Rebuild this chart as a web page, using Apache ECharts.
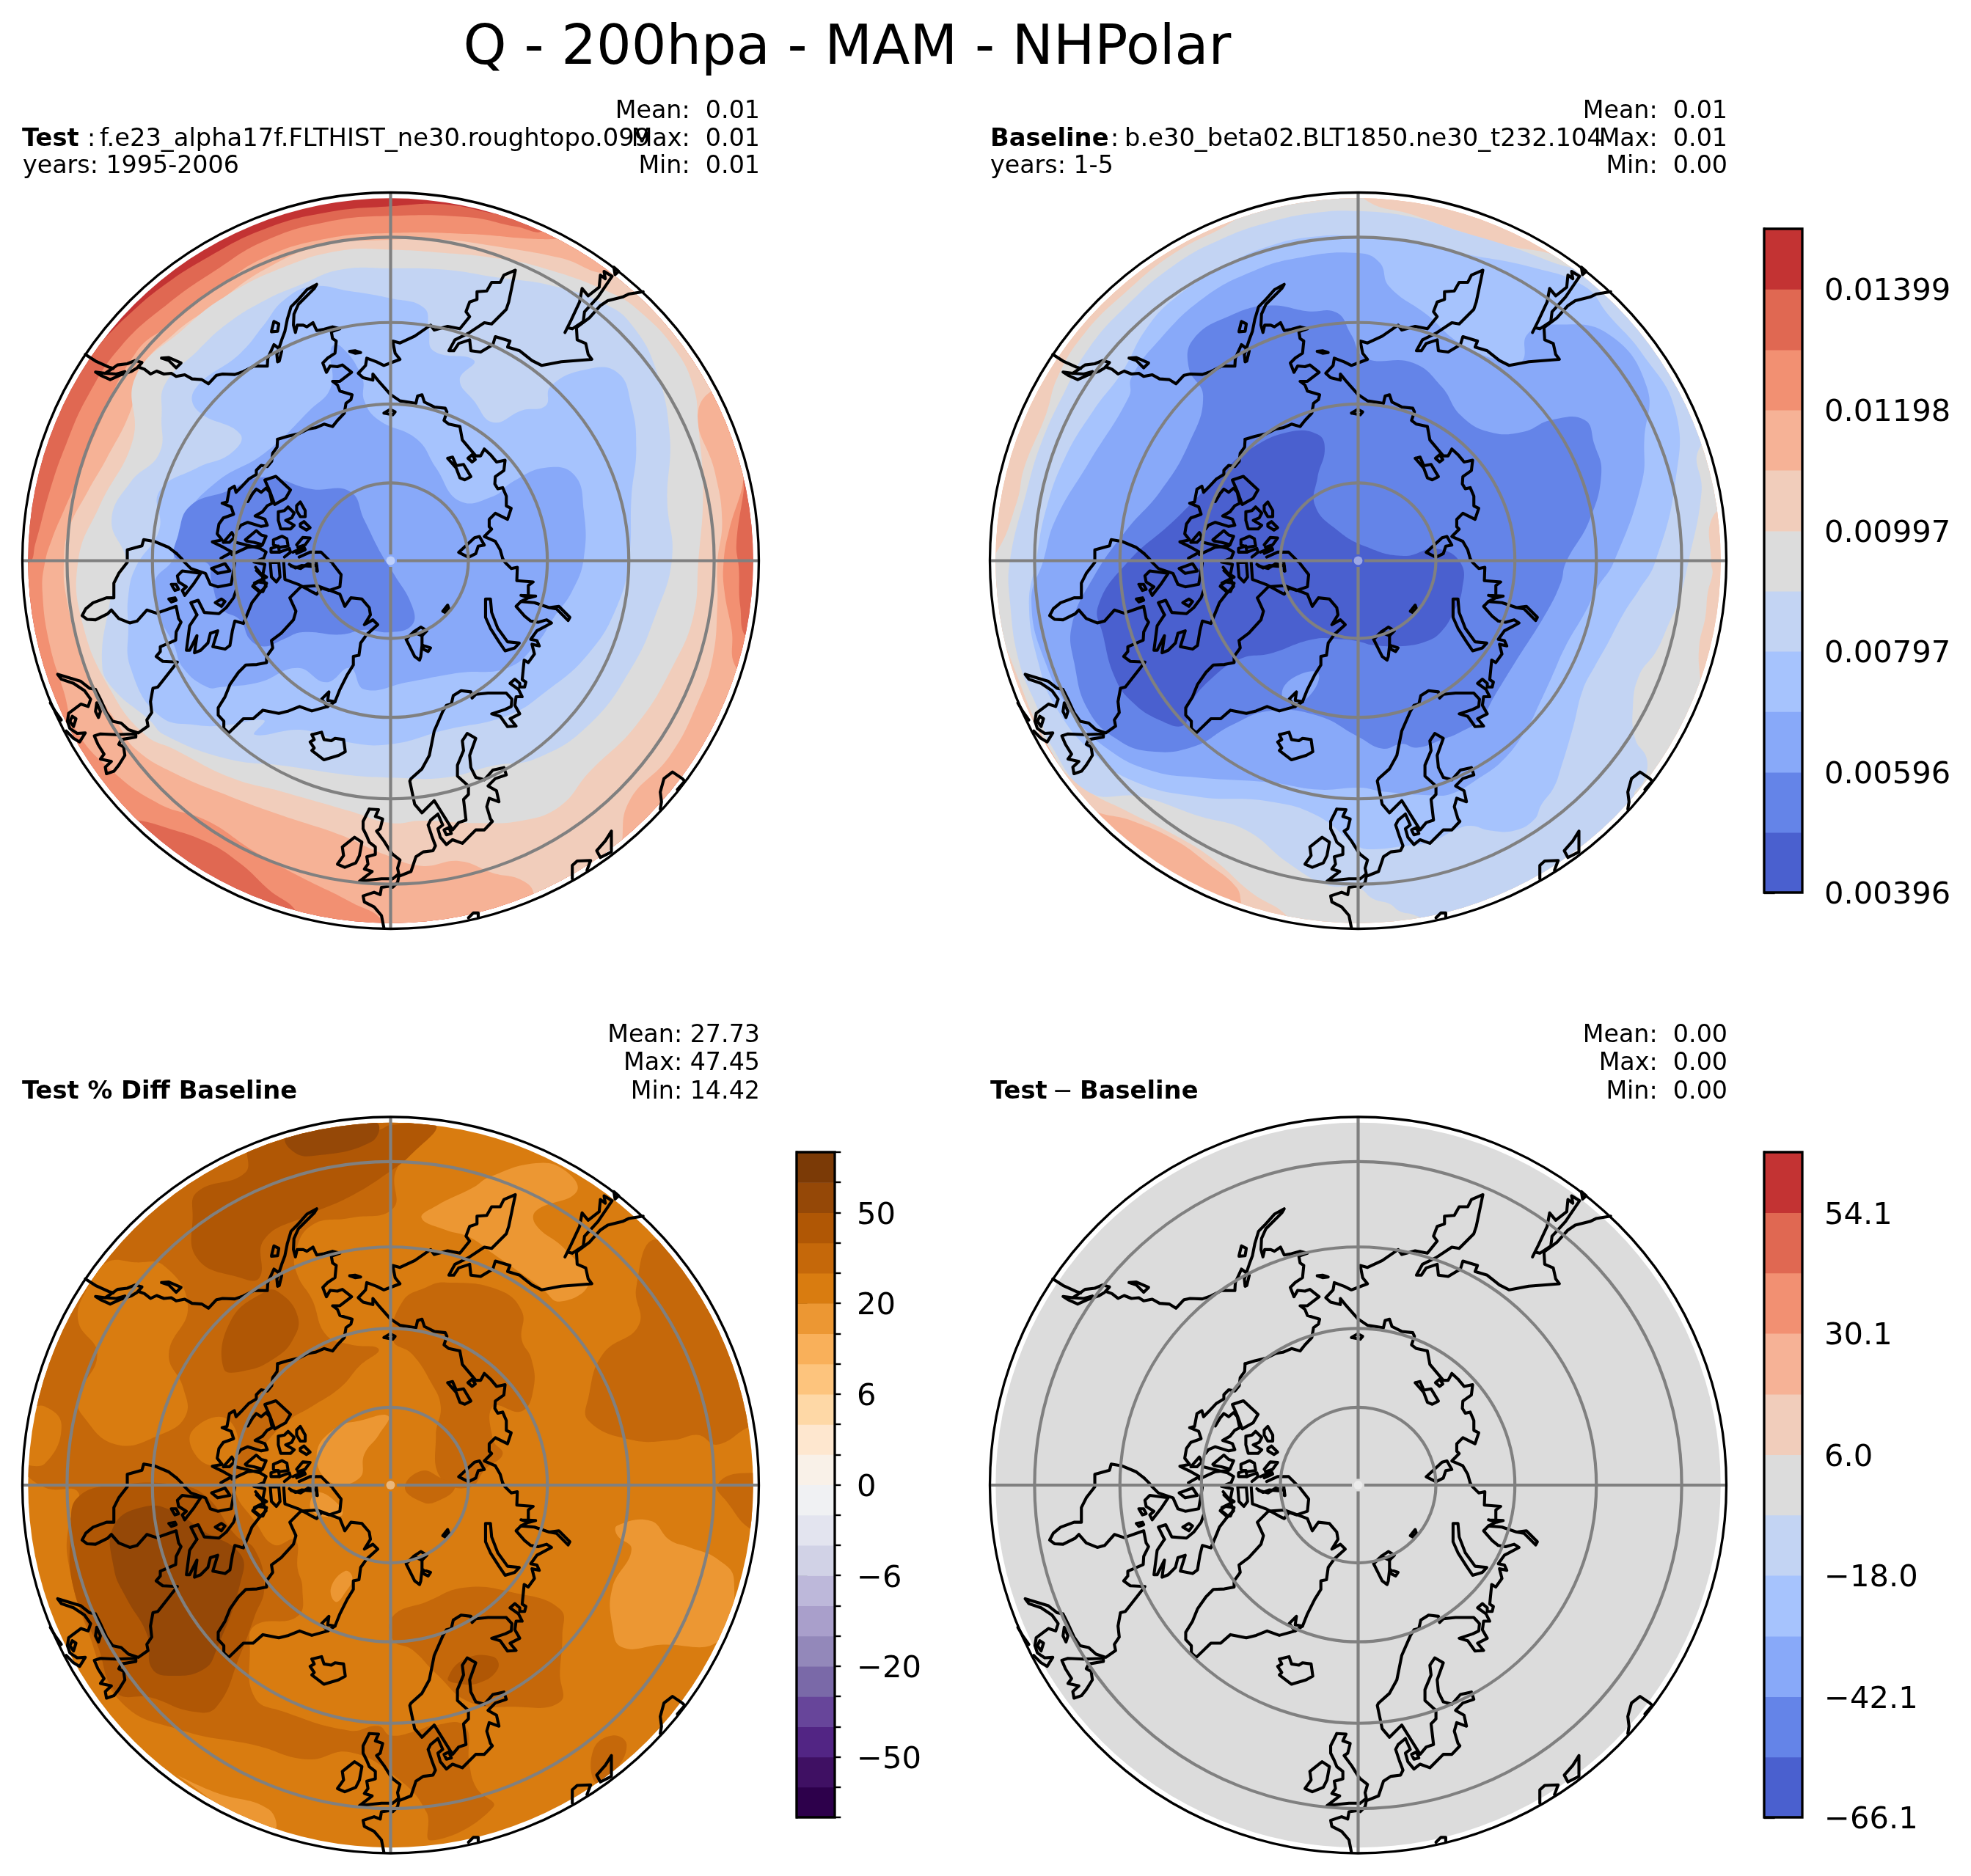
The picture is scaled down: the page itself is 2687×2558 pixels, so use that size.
<!DOCTYPE html>
<html><head><meta charset="utf-8">
<style>html,body{margin:0;padding:0;background:#fff}#c{width:2687px;height:2558px}</style>
<script src="https://cdn.jsdelivr.net/npm/echarts@6/dist/echarts.min.js"></script>
</head><body><div id="c"></div>
<script>
// ---------- colour scales ----------
const coolwarm=['#4a60cf','#6484e8','#88a9f9','#a6c3fd','#c3d4f3','#dcdcdc','#f1cdbb','#f6b296','#f29072','#e06852','#c33333'];
const puor=['#2d004b','#3f1063','#522584','#67459a','#7a69a8','#9388ba','#a99fcb','#bdb8da','#d1d2e6','#e3e4ef','#f0f1f3','#f9f1e8','#fee7cf','#fed8a6','#fdc47d','#f9b05a','#ec9733','#d97c10','#c5680a','#b05705','#954807','#7b3a06'];
// ---------- colour-bar levels and ticks ----------
const qLevels=[0.00396,0.00496,0.00596,0.00697,0.00797,0.00897,0.00997,0.01098,0.01198,0.01298,0.01399,0.01499];
const qTicks=[0.00396,0.00596,0.00797,0.00997,0.01198,0.01399];
const pctLevels=[-100,-75,-50,-40,-30,-20,-15,-10,-6,-4,-2,0,2,4,6,10,15,20,30,40,50,75,100];
const pctTicks=[-50,-20,-6,0,6,20,50];
const diffLevels=[-66.1,-54.1,-42.1,-30.1,-18.0,-6.0,6.0,18.0,30.1,42.1,54.1,66.1];
const diffTicks=[-66.1,-42.1,-18.0,6.0,30.1,54.1];
// ---------- map graticule ----------
const gridLats=[80,70,60,50];
const gridLons=[0,90,180,270];
// ---------- Test panel: region below each contour level (map units) ----------
const tBelow10=[1040,60,900,38,785,42,650,55,520,90,400,150,300,215,230,275,160,340,140,340,-65,785,184,1386,785,1635,1386,1386,1635,785,1386,184,1100,40];
const tBelow9=[1105,90,1050,85,950,65,785,62,650,75,520,115,420,175,320,245,220,335,150,440,105,540,70,640,40,750,25,790,-65,800,-65,1000,150,1290,300,1340,400,1375,470,1420,530,1475,590,1525,600,1600,785,1635,1386,1386,1635,1000,1535,950,1518,880,1515,800,1510,750,1525,640,1530,600,1635,500,1386,100,1105,-20];
const tBelow8=[1150,110,1080,110,950,100,785,98,650,110,520,150,420,215,330,285,250,350,165,520,135,600,100,680,75,740,60,790,55,850,70,960,100,1060,125,1140,200,1225,300,1295,400,1330,500,1395,600,1450,700,1500,770,1545,780,1640,1386,1386,1600,1100,1510,1010,1500,930,1485,850,1483,790,1495,720,1520,640,1530,600,1635,400,1386,100];
const tBelow7=[1250,180,1140,150,1000,125,900,112,785,112,640,125,520,175,420,245,330,310,260,385,240,470,190,570,150,640,110,720,100,790,105,860,130,960,165,1050,215,1130,250,1180,330,1230,450,1280,560,1320,680,1360,770,1400,850,1425,930,1415,1000,1440,1060,1455,1085,1485,1075,1600,1260,1500,1270,1380,1285,1290,1370,1195,1430,1080,1460,990,1470,880,1470,790,1480,700,1465,600,1430,470,1500,400,1635,300,1386,100];
const tBelow6=[785,133,900,140,1000,150,1100,170,1250,225,1310,265,1380,340,1420,420,1430,500,1440,640,1430,790,1420,900,1380,1000,1300,1130,1200,1230,1140,1300,1060,1330,960,1335,850,1330,785,1335,700,1310,560,1270,450,1240,330,1180,270,1150,200,1060,140,920,130,785,175,670,245,530,250,400,350,300,440,230,560,170,680,135];
const tBelow5=[785,172,680,175,600,205,520,240,440,290,380,345,312,415,305,480,300,560,240,620,200,700,230,785,210,830,195,880,180,1000,200,1050,280,1120,310,1150,440,1200,560,1215,700,1235,785,1240,900,1240,1000,1215,1090,1200,1200,1130,1290,1010,1340,900,1375,780,1365,660,1370,520,1340,380,1290,290,1240,250,1130,210,1000,190,900,175];
const tBelow4=[620,210,700,220,785,235,855,255,865,300,875,345,960,365,930,405,960,450,1000,495,1060,470,1110,460,1120,420,1190,385,1260,390,1290,460,1300,550,1290,650,1285,780,1260,880,1200,980,1110,1060,1030,1110,900,1140,785,1170,690,1165,600,1140,500,1150,520,1120,440,1130,380,1130,300,1110,240,1010,235,920,235,860,250,800,300,720,300,640,380,590,450,560,470,520,380,470,375,425,470,350,520,290,560,240];
const tBelow3=[680,335,725,400,730,450,760,490,840,530,880,590,930,660,1000,650,1040,620,1110,590,1170,605,1190,680,1190,780,1165,850,1130,900,1090,960,1030,1010,930,1020,820,1040,730,1055,700,1010,650,1040,590,1010,510,1040,430,1050,400,1050,350,1010,330,960,300,900,290,830,330,780,350,700,420,620,520,560,615,470,660,420,660,340];
const tBelow2=[620,635,700,640,730,700,765,770,790,810,830,880,830,920,785,935,730,930,680,940,600,935,560,950,520,965,490,950,470,910,430,885,410,830,400,790,335,780,340,730,365,670,440,640,520,610];
// ---------- Baseline panel ----------
const bBelow7=[220,1300,310,1330,400,1370,470,1420,530,1470,550,1515,785,1635,1386,1386,1635,785,1386,184,785,-65,184,184,-65,785,150,1200];
const bBelow6=[800,28,900,60,1000,95,1100,125,1190,142,1290,180,1500,400,1600,650,1530,690,1525,790,1528,811,1518,852,1513,903,1500,964,1502,1031,1510,1080,1600,1100,1600,1200,1386,1386,660,1600,640,1535,560,1480,480,1410,400,1360,300,1310,215,1265,150,1200,60,1000,-10,785,25,770,70,660,85,590,130,480,155,400,210,310,300,220,400,140,530,68,600,0,785,-20];
const bBelow5=[785,52,700,55,600,75,500,110,400,165,300,250,220,340,170,430,120,540,90,640,55,785,55,870,75,1000,115,1100,140,1170,220,1270,330,1280,450,1320,550,1350,640,1420,720,1465,785,1471,816,1494,852,1505,872,1520,903,1528,918,1538,940,1600,1200,1550,1400,1300,1364,1277,1384,1246,1390,1200,1366,1159,1361,1092,1374,1026,1410,975,1436,918,1456,872,1477,790,1505,640,1500,550,1600,450,1386,184,1250,175,1100,125,1000,95,900,65];
const bBelow4=[785,105,700,105,600,125,500,170,400,235,340,300,290,390,230,470,170,570,130,680,110,785,95,880,115,1000,150,1090,230,1190,320,1250,450,1280,600,1290,700,1320,785,1384,816,1390,877,1384,939,1374,990,1349,1021,1341,1062,1351,1113,1351,1154,1328,1169,1297,1195,1261,1210,1220,1236,1133,1256,1056,1282,1005,1308,959,1343,893,1374,846,1407,790,1450,620,1450,470,1380,350,1310,270,1260,210,1150,170,1000,140,900,115];
const bBelow3=[785,140,660,150,560,180,460,235,370,320,310,400,305,440,220,580,150,700,125,785,100,870,130,1000,190,1110,260,1180,350,1225,450,1240,600,1250,700,1265,790,1261,836,1269,939,1277,980,1274,1031,1246,1092,1200,1144,1128,1159,1098,1190,1031,1220,964,1261,893,1287,841,1320,790,1380,620,1385,530,1390,420,1310,310,1200,290,1140,310,1130,365,1100,370,1000,330,930,270,850,210,830,160];
const bBelow2=[600,250,680,262,740,265,770,310,800,360,900,370,960,420,1000,480,1060,515,1130,515,1190,490,1260,490,1280,540,1295,600,1270,700,1220,790,1210,831,1179,895,1113,1000,1072,1067,1041,1118,1000,1144,964,1159,908,1177,877,1169,836,1179,785,1154,700,1110,600,1100,520,1130,440,1175,350,1185,280,1160,220,1100,190,1000,185,920,230,820,300,720,370,640,430,540,460,440,430,380,440,320,520,270];
const bPatch2=[625,1065,650,1030,700,1020,690,1060,650,1085];
const bBelow1=[640,515,700,520,715,550,700,610,695,670,740,720,800,755,880,775,950,760,1000,790,1003,846,985,893,959,934,928,954,877,964,816,962,785,954,750,950,690,950,600,980,540,990,480,1030,430,1090,420,1130,370,1120,310,1080,275,1030,250,940,240,880,300,790,400,700,500,600,560,550];
// ---------- % difference panel ----------
const dBase=[-100,-100,1700,-100,1700,1700,-100,1700];
const dDark1A=[10,745,60,740,95,660,60,620,10,620,-20,500,100,280,300,100,600,-10,880,-10,880,30,830,85,795,130,790,205,700,225,620,240,585,300,590,345,620,395,650,470,700,490,760,500,720,535,680,580,620,620,570,650,520,700,470,760,460,800,500,860,540,910,585,900,590,960,600,1000,590,1060,500,1080,490,1130,500,1230,560,1260,700,1300,760,1290,785,1310,840,1300,870,1290,940,1290,950,1370,965,1420,1000,1460,870,1530,860,1470,800,1400,700,1345,610,1360,500,1330,350,1300,220,1240,150,1090,110,950,110,870,130,800,60,790];
const dMain1=[190,318,250,318,310,325,360,410,320,510,350,580,355,640,300,680,210,700,140,640,130,600,170,510,130,440,150,370];
const dMain2=[370,670,440,645,465,720,420,745,375,720];
const dDark1B=[1340,270,1300,370,1305,450,1230,510,1200,600,1200,650,1290,690,1380,690,1430,680,1470,700,1545,660,1600,660,1600,500,1450,350];
const dDark1C=[1470,785,1490,820,1545,880,1600,880,1600,780,1520,760];
const dDark1D=[810,400,860,370,900,360,1010,375,1060,420,1060,480,1080,520,1085,580,1060,630,1000,620,1000,690,1020,720,985,750,950,790,890,770,880,680,890,620,870,570,830,510,790,480];
const dDark1E=[815,790,850,755,890,770,920,790,880,820,850,820];
const dDark1F=[790,1060,860,1030,940,1000,1040,1010,1140,1045,1145,1100,1140,1180,1140,1240,1040,1250,950,1240,880,1180,830,1130,790,1110];
const dDark1G=[1210,1340,1250,1310,1280,1330,1250,1390,1215,1410];
const dLight1=[850,225,880,200,960,160,990,140,1090,110,1150,125,1175,170,1090,210,1090,240,1150,290,1200,360,1140,400,1100,370,1000,300,950,265,900,250];
const dLight2=[630,720,670,665,720,650,780,640,760,680,730,720,720,770,660,780];
const dLight3=[1260,870,1330,860,1370,900,1410,915,1470,940,1505,985,1475,1110,1350,1120,1270,1125,1250,1080,1250,1000,1290,920,1260,890];
const dLight4=[330,1390,420,1430,530,1465,540,1510,450,1470,340,1395];
const dLight5=[660,1000,690,965,705,980,690,1010,670,1030];
const dLight6=[630,800,680,830,680,850,620,840];
const dDark2A=[370,220,380,170,480,130,490,70,570,50,760,40,785,30,880,30,830,90,780,130,700,180,610,220,520,270,510,350,470,350,380,310];
const dDark2B=[435,540,450,440,520,380,550,380,590,430,580,480,540,520,480,545];
const dDark2C=[115,875,130,810,210,785,340,785,400,810,460,890,500,920,520,1000,500,1060,470,1140,420,1250,370,1260,280,1230,210,1220,170,1120,120,1000];
const dDark2D=[905,1190,940,1150,1000,1145,1010,1170,970,1200,920,1200];
const dDark3A=[205,870,270,830,330,840,390,880,470,930,470,990,420,1130,395,1170,330,1185,285,1170,275,1100,230,1020,205,960];
const dDark3B=[565,55,620,30,755,25,745,65,620,95,580,85];
// ---------- coastlines, traced in five local frames ----------
const coastNW=[
[258,665,300,692,355,717,372,722],
[300,737,320,750,360,768,405,748,445,735,470,720,490,698,462,690,430,703,390,708,370,722,340,742,300,737],
[340,742,385,745,420,735],
[480,718,500,725,525,745,550,733,580,745,610,742,630,755,665,748,695,765,735,768,762,785,795,750,820,745,870,747,905,735,950,712,1003,713,1005,680,1030,625,1050,640,1062,650,1052,692,1045,695,1042,665,1062,605,1075,570,1085,520,1100,470,1125,445,1165,400,1205,378,1195,395,1160,430,1130,460,1112,500,1110,545,1118,575,1125,545,1150,545,1165,552,1190,535,1205,567,1235,562,1270,552,1300,560,1265,572,1270,600,1285,610,1280,660,1250,680,1230,700,1245,738,1260,712,1290,715,1310,708,1348,738,1300,775,1270,775,1290,790,1300,815,1350,830,1345,850,1325,865,1318,905,1290,935,1270,960,1235,950,1200,965,1170,970,1130,990,1085,1000,1045,1012],
[1020,570,1030,530,1050,540,1045,570,1020,572],
[570,680,600,678,650,700,630,720,600,690,570,680],
[1340,652,1362,650,1385,657,1362,660,1340,652]];
const coastNE=[
[1035,408,975,418,950,430,890,445,860,465,815,515,762,555,765,605,800,620,810,665,825,685,700,695,620,710,580,690,530,650,480,635,490,610,430,592,420,625,370,655,330,650,325,605,280,620,260,650,240,650,265,605,320,578,385,535,415,540,475,480,485,450,512,320,465,340,450,370,415,370,395,405,355,408,355,440,325,450,310,490,325,510,285,560,235,550,180,565,165,545,100,590,40,618,10,610,20,660,40,685,0,700,-26,710,-56,695,-96,680,-101,710,-131,742,-111,760,-71,770,-71,745,-51,770,0,828,40,855,105,865,112,835,130,830,140,860,180,880,225,885,232,900,220,935,240,950,285,960,295,1015,350,1080,370,1080,385,1052,410,1075,435,1105,470,1098,465,1140,430,1165,428,1195,440,1215,460,1210,475,1245,475,1285,495,1295,480,1340,430,1315,405,1340,405,1370,415,1380,385,1410,430,1430,450,1465,460,1500],
[715,575,740,525,775,450,785,395,810,425,855,390,860,340,880,355,875,325,908,345,850,430,795,490,790,530,745,560,725,555,715,575],
[915,308,935,325,920,338,915,308],
[235,1090,255,1085,270,1120,300,1115,330,1165,305,1178,285,1170,270,1130,235,1090],
[318,1090,335,1075,348,1095,335,1105,318,1090],
[280,1475,345,1415,365,1410,385,1445,360,1450,350,1480,320,1495,280,1475],
[-26,905,0,890,20,900,10,912,-26,905]];
const coastSW=[
[632,-26,600,-51,540,-76,497,-83,490,-58,430,-41,430,10,395,55,375,95,375,155,345,155,290,175,260,200,245,228,265,243,300,245,350,220,365,205,395,240,440,258,470,250,510,205,550,218,630,190,640,240,650,255,630,295,628,328,600,340,565,355,565,375,548,395,575,415,635,418,555,520,535,525,525,580,530,625,510,655,515,680,475,708,435,695,405,668,370,660,345,625,320,570,300,530,275,525,240,497,145,468,160,488,210,505,255,535,280,570,270,600,240,590,190,628,185,660,195,690,225,710,258,708,235,745,210,730,180,700],
[632,-26,650,-8,665,10,690,35,750,55,770,100,800,110,855,100,862,60,870,12],
[305,585,320,620,312,645,300,620,305,585],
[205,640,195,660,210,682,220,650,205,640],
[115,585,135,620,160,655],
[295,720,320,712,385,715,465,712,465,725,405,735,395,755,415,765,420,800,395,840,375,865,345,875,340,848,365,825,320,815,335,795,310,755,295,720],
[635,65,655,45,730,55,700,100,665,145,655,125,672,110,640,90,635,65],
[610,100,630,100,640,120,625,125,610,100],
[600,160,625,155,630,165,610,172,600,160],
[775,35,830,15,850,45,800,55,775,35],
[715,225,690,175,720,165,745,215,805,220,835,195,865,155,875,125],
[715,225,685,270,672,370,685,370,715,310,705,380,730,370,760,340,770,300,800,290,780,355,830,365,850,350,860,290,870,250,905,260,930,200,940,175,975,130,945,105,965,90,1000,95,985,130,975,130],
[955,30,975,55,1000,70,950,95],
[790,175,815,160,830,170,815,190,790,175],
[1015,10,1020,70,1040,90,1055,70,1050,10,1015,10],
[1070,10,1075,80,1130,100,1185,130,1205,140,1225,115,1255,125,1300,110,1305,60,1270,15],
[1100,25,1140,35,1170,15,1205,25,1205,45],
[845,708,905,650,945,650,985,615,1050,628,1090,618,1135,600,1185,618,1250,600,1280,580,1300,530,1330,470,1355,430,1355,395,1378,390,1385,340,1410,305,1455,265,1435,245,1400,265,1425,225,1420,195,1390,160,1345,155,1320,190,1300,140,1260,125,1205,105,1140,110,1095,155,1120,210,1110,245,1060,300,1020,330,1025,360,1000,395,1000,420,960,428,915,430,885,460,850,510,830,560,802,605,802,635,825,660,825,690,845,708],
[1250,600,1225,570,1255,540,1250,575,1280,580],
[1185,715,1225,705,1235,735,1265,740,1280,730,1315,735,1322,785,1295,800,1235,818,1185,780,1195,770,1178,745,1195,735,1185,715],
[1310,1175,1360,1135,1390,1155,1380,1210,1365,1240,1320,1258,1290,1245,1315,1210,1310,1175],
[1420,1020,1395,1070,1395,1100,1410,1130,1420,1155,1445,1175,1445,1205,1410,1215,1415,1245,1400,1265,1432,1275,1380,1315,1420,1310,1470,1305,1515,1305],
[1420,1020,1458,1022,1445,1050,1475,1060,1465,1100,1450,1110,1480,1150,1505,1190,1516,1205],
[1506,1335,1470,1340,1465,1370,1440,1360,1395,1375,1400,1400,1440,1420,1470,1455,1480,1506]];
const coastSE=[
[460,-6,470,10,495,35,520,30,518,85,585,90,565,105,565,140],
[535,145,595,148,570,155,535,145],
[565,155,535,170,515,190,550,230,575,250,605,255,640,245,660,258,600,290,575,325,600,330,610,352,580,345,590,385,565,420,548,410,540,490,555,500,550,520,530,520,530,505,510,488,490,505,525,530,540,560,515,560,510,595,530,630,490,650,515,680,480,682,450,640,415,630,470,612,495,600,498,570,475,545,400,545,350,550,335,565,330,540,290,535,258,555,250,590,230,595,215,620,180,700,160,800,130,855,85,895,80,905,100,1000,130,1035,180,985,255,1105,280,1075,310,1065,300,980,320,960,320,925,275,885,275,840,300,780,295,740,315,710,350,730,325,800,330,850,350,890,385,900,420,860,465,850,475,880,430,895,400,925,435,945,445,990,405,975,395,1010,410,1060,418,1070,385,1105,350,1105,295,1160,255,1145,230,1165,205,1135,195,1100,215,1085,195,1040,165,1065,155,1085,170,1130,185,1170,175,1190,135,1195,105,1215,85,1275,35,1295,30,1320,10,1340],
[535,170,590,175,650,195,690,190,735,235,728,248,680,200,650,195],
[390,160,410,160,415,215,440,280,480,335,528,340,510,360,470,372,445,335,410,280,390,235,390,160],
[65,325,90,300,130,300,130,350,125,395,120,410,100,395,85,365,65,325],
[95,295,125,275,150,290,130,310,95,295],
[135,350,165,360,155,375,135,365,135,350],
[215,210,235,185,240,200,225,215,215,210],
[10,1205,40,1228,30,1262,35,1285,10,1305],
[220,1105,240,1095,250,1120,230,1125,220,1105],
[320,1465,340,1445,360,1445,360,1460],
[745,1305,745,1250,765,1232,820,1230,805,1270],
[905,1110,880,1150,845,1190,860,1218,905,1195,905,1150,905,1110],
[1105,1020,1110,990,1105,950,1120,895,1155,868,1195,895,1205,905,1175,940]];
const coastArctic=[
[412,28,410,60,392,85,388,118,370,140,345,135,325,155,325,172,295,190,262,225,242,245,235,220,215,232,205,285,185,290,222,305,232,335,190,350,172,375,165,415,185,440,145,448,190,470,225,490,180,515],
[360,195,405,180,465,235,445,270,400,295,380,240,360,195],
[290,283,310,250,325,232,345,245,365,228,380,245,390,290,370,300,350,325,320,342,360,355,370,380,345,385,290,368,262,380,250,395],
[415,325,440,320,455,305,480,330,470,350,445,360,480,380,465,395,425,395,415,360,415,325],
[490,300,505,285,525,320,525,345,505,345,490,320,490,300],
[505,375,520,365,545,390,530,400,505,385,505,375],
[280,440,325,402,345,420,365,425,350,460,315,450,285,445],
[190,450,225,410,235,430,215,450,190,450],
[395,440,430,425,450,435,455,465,420,470,395,460,395,440],
[385,475,415,465,420,490,385,490,385,475],
[420,490,460,475,465,490,440,510],
[490,460,515,430,545,432,525,460,495,470],
[475,490,520,470,525,480,490,495],
[240,450,280,460,340,475,365,490,355,515,330,525],
[225,500,290,470,345,465],
[500,510,545,490,590,490,630,530],
[460,540,485,555,510,545,550,548],
[570,530,575,568],
[315,530,360,540,350,590,325,565],
[350,590,365,630,340,655,310,630]];
// ---------- map scaffolding ----------
const UNIT=1.537, MID=785, LIMB=772, DATA_R=760;
const CENTRES=[[532.5,764.5],[1851.5,764.5],[532.5,2025],[1851.5,2025]];
const R=502;
const frame=(ox,oy,segs)=>segs.map(s=>{const o=[];for(let i=0;i<s.length;i+=2)o.push([MID+(ox+s[i]/3)*UNIT,MID+(oy+s[i+1]/3)*UNIT]);return o;});
const coast=[...frame(-502.5,-503,coastNW),...frame(-0.5,-503,coastNE),...frame(-502.5,-1,coastSW),...frame(-0.5,-1,coastSE),...frame(-291.5,-175,coastArctic)];
const layersT=[[coolwarm[10],dBase],[coolwarm[9],tBelow10],[coolwarm[8],tBelow9],[coolwarm[7],tBelow8],[coolwarm[6],tBelow7],[coolwarm[5],tBelow6],[coolwarm[4],tBelow5],[coolwarm[3],tBelow4],[coolwarm[2],tBelow3],[coolwarm[1],tBelow2]];
const layersB=[[coolwarm[7],dBase],[coolwarm[6],bBelow7],[coolwarm[5],bBelow6],[coolwarm[4],bBelow5],[coolwarm[3],bBelow4],[coolwarm[2],bBelow3],[coolwarm[1],bBelow2],[coolwarm[2],bPatch2],[coolwarm[0],bBelow1]];
const M=puor[17],D1=puor[18],D2=puor[19],D3=puor[20],L=puor[16];
const layersP=[[M,dBase],[D1,dDark1A],[M,dMain1],[M,dMain2],[D1,dDark1B],[D1,dDark1C],[D1,dDark1D],[D1,dDark1E],[D1,dDark1F],[D1,dDark1G],[L,dLight1],[L,dLight2],[L,dLight3],[L,dLight4],[L,dLight5],[L,dLight6],[D2,dDark2A],[D2,dDark2B],[D2,dDark2C],[D2,dDark2D],[D3,dDark3A],[D3,dDark3B]];
const layersD=[[coolwarm[5],dBase]];
const panelLayers=[layersT,layersB,layersP,layersD];

const grids=[],xAxes=[],yAxes=[],series=[];
function addMap(i){
  const [cx,cy]=CENTRES[i], g=grids.length;
  const s=R/LIMB;
  grids.push({left:cx-R,top:cy-R,width:2*R,height:2*R,containLabel:false});
  xAxes.push({gridIndex:g,type:'value',min:MID-LIMB,max:MID+LIMB,show:false});
  yAxes.push({gridIndex:g,type:'value',min:MID-LIMB,max:MID+LIMB,inverse:true,show:false});
  const layers=panelLayers[i];
  series.push({type:'custom',xAxisIndex:g,yAxisIndex:g,coordinateSystem:'cartesian2d',z:1,silent:true,clip:false,
    data:layers.map((l,k)=>[l[1][0],l[1][1],k]),encode:{x:0,y:1},
    renderItem(p,api){
      const l=layers[api.value(2)], pts=[];
      for(let k=0;k<l[1].length;k+=2)pts.push(api.coord([l[1][k],l[1][k+1]]));
      const c=api.coord([MID,MID]);
      return {type:'group',clipPath:{type:'circle',shape:{cx:c[0],cy:c[1],r:DATA_R*s}},
        children:[{type:'polygon',shape:{points:pts,smooth:l[1]===dBase?0:0.45},style:{fill:l[0],stroke:null}}]};
    }});
  coast.forEach(seg=>series.push({type:'line',xAxisIndex:g,yAxisIndex:g,data:seg,showSymbol:false,silent:true,clip:false,z:2,
    lineStyle:{color:'#000',width:4.1,join:'round',cap:'round'}}));
  // graticule
  const K=LIMB/Math.tan((90-45)/2*Math.PI/180);
  series.push({type:'custom',xAxisIndex:g,yAxisIndex:g,coordinateSystem:'cartesian2d',z:3,silent:true,clip:false,
    data:gridLats.map(l=>[MID,MID,l]),encode:{x:0,y:1},
    renderItem(p,api){
      const c=api.coord([MID,MID]), r=K*Math.tan((90-api.value(2))/2*Math.PI/180)*s;
      return {type:'circle',shape:{cx:c[0],cy:c[1],r},style:{fill:null,stroke:'#808080',lineWidth:4.2}};
    }});
  series.push({type:'custom',xAxisIndex:g,yAxisIndex:g,coordinateSystem:'cartesian2d',z:3,silent:true,clip:false,
    data:gridLons.map(l=>[MID,MID,l]),encode:{x:0,y:1},
    renderItem(p,api){
      const a=api.value(2)*Math.PI/180;
      const p0=api.coord([MID+13*Math.sin(a),MID+13*Math.cos(a)]),p1=api.coord([MID+LIMB*Math.sin(a),MID+LIMB*Math.cos(a)]);
      return {type:'line',shape:{x1:p0[0],y1:p0[1],x2:p1[0],y2:p1[1]},style:{stroke:'#808080',lineWidth:4.2}};
    }});
  series.push({type:'custom',xAxisIndex:g,yAxisIndex:g,coordinateSystem:'cartesian2d',z:4,silent:true,clip:false,
    data:[[MID,MID]],encode:{x:0,y:1},
    renderItem(p,api){
      const c=api.coord([MID,MID]);
      return {type:'group',children:[
        {type:'circle',shape:{cx:c[0],cy:c[1],r:R},style:{fill:null,stroke:'#000',lineWidth:3.3}},
        {type:'circle',shape:{cx:c[0],cy:c[1],r:6},style:{fill:'rgba(255,255,255,0.45)',stroke:null}}]};
    }});
}
function addBar(left,top,height,levels,colors,ticks,fmt,minor){
  const g=grids.length,width=52;
  grids.push({left,top,width,height});
  xAxes.push({gridIndex:g,type:'value',min:0,max:1,show:false});
  const lo=minor?0:levels[0],hi=minor?levels.length-1:levels[levels.length-1];
  const ax=yAxes.length;
  const tickVals=minor?ticks.map(t=>levels.indexOf(t)):ticks;
  yAxes.push({gridIndex:g,type:'value',position:'right',min:lo,max:hi,splitLine:{show:false},
    axisLine:{show:true,lineStyle:{color:'#000',width:3.3}},
    axisTick:{show:true,length:14.6,lineStyle:{color:'#000',width:3.3},customValues:tickVals},
    axisLabel:{show:true,margin:30,fontFamily:'DejaVu Sans',fontSize:41.67,color:'#000',customValues:tickVals,verticalAlign:'top',lineHeight:9,
      formatter:v=>fmt(minor?levels[Math.round(v)]:v)}});
  if(minor){
    yAxes.push({gridIndex:g,type:'value',position:'right',min:lo,max:hi,splitLine:{show:false},
      axisLine:{show:false},axisLabel:{show:false},
      axisTick:{show:true,length:8.3,lineStyle:{color:'#000',width:2.4},customValues:levels.map((_,i)=>i)}});
  }
  series.push({type:'custom',xAxisIndex:g,yAxisIndex:ax,coordinateSystem:'cartesian2d',z:1,silent:true,clip:false,
    data:colors.map((c,i)=>[0,minor?i:levels[i],minor?i+1:levels[i+1],i]),encode:{x:0,y:[1,2]},
    renderItem(p,api){
      const a=api.coord([0,api.value(1)]),b=api.coord([1,api.value(2)]);
      return {type:'rect',shape:{x:a[0],y:b[1],width:b[0]-a[0],height:a[1]-b[1]+0.6},style:{fill:colors[api.value(3)],stroke:null}};
    }});
  series.push({type:'custom',xAxisIndex:g,yAxisIndex:ax,coordinateSystem:'cartesian2d',z:2,silent:true,clip:false,
    data:[[0,lo,hi]],encode:{x:0,y:[1,2]},
    renderItem(p,api){
      const a=api.coord([0,api.value(1)]),b=api.coord([1,api.value(2)]);
      return {type:'rect',shape:{x:a[0],y:b[1],width:b[0]-a[0],height:a[1]-b[1]},style:{fill:null,stroke:'#000',lineWidth:3.3}};
    }});
}
[0,1,2,3].forEach(addMap);
const minusFmt=v=>String(v).replace('-','\u2212');
addBar(2405,312,905,qLevels,coolwarm,qTicks,v=>v.toFixed(5),false);
addBar(1086,1571,907,pctLevels,puor,pctTicks,minusFmt,true);
addBar(2405,1571,907,diffLevels,coolwarm,diffTicks,v=>minusFmt(v.toFixed(1)),false);

// ---------- text ----------
const FONT='"DejaVu Sans"';
const T=(text,x,y,size,align,bold)=>({type:'text',silent:true,z:10,style:{text,x,y,fill:'#000',align:align||'left',verticalAlign:'middle',
  font:(bold?'bold ':'')+size+'px '+FONT}});
const SMALL=33.3, NAME=33.75;
const stats=(x,ys,vals)=>['Mean:','Max:','Min:'].map((n,i)=>T(n+' '+vals[i],x,ys[i],SMALL,'right'));
const graphic=[
  T('Q - 200hpa - MAM - NHPolar',1155,68,75,'center'),
  T('Test',30,190,NAME,'left',true),T(':',119,190,SMALL),T('f.e23_alpha17f.FLTHIST_ne30.roughtopo.099',136,190,NAME),T('years: 1995-2006',31,227,SMALL),
  ...stats(1036,[152,190,227],[' 0.01',' 0.01',' 0.01']),
  T('Baseline',1350,190,NAME,'left',true),T(':',1514,190,SMALL),T('b.e30_beta02.BLT1850.ne30_t232.104',1533,190,NAME),T('years: 1-5',1350,227,SMALL),
  ...stats(2355,[152,190,227],[' 0.01',' 0.01',' 0.00']),
  T('Test % Diff Baseline',30,1489,NAME,'left',true),
  ...stats(1036,[1412,1450,1489],['27.73','47.45','14.42']),
  T('Test',1350,1489,NAME,'left',true),T('\u2212',1435,1489,SMALL),T('Baseline',1472,1489,NAME,'left',true),
  ...stats(2355,[1412,1450,1489],[' 0.00',' 0.00',' 0.00'])
];
const chart=echarts.init(document.getElementById('c'));
chart.setOption({animation:false,backgroundColor:'#fff',grid:grids,xAxis:xAxes,yAxis:yAxes,series,graphic});
</script></body></html>
